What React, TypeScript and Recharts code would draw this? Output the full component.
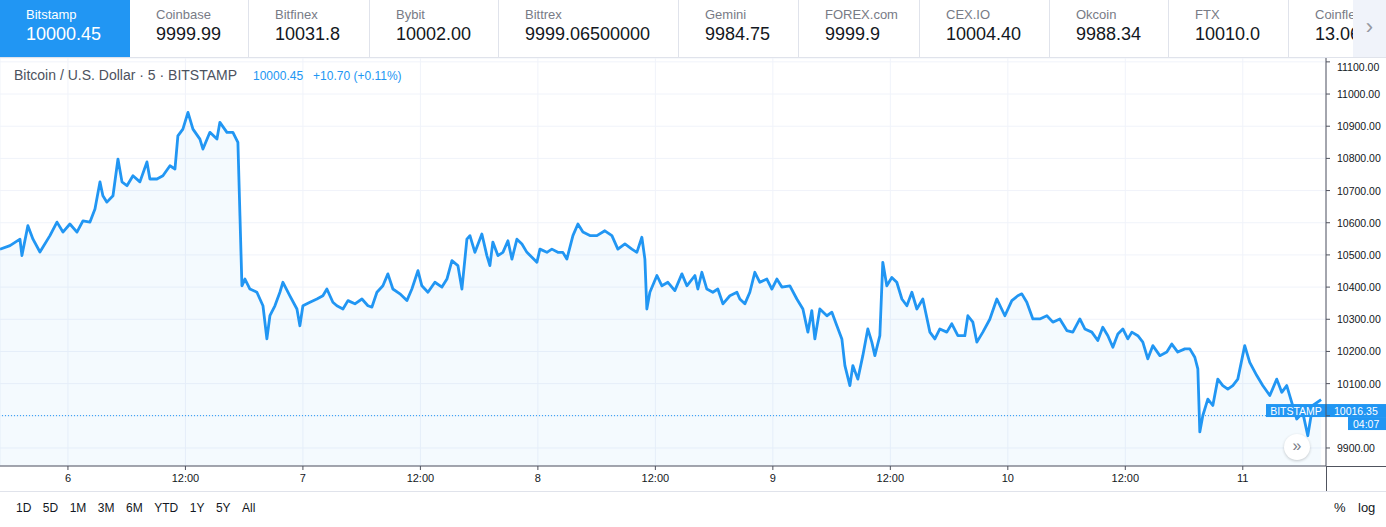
import React from "react";
import { ComposedChart, Area, XAxis, YAxis, CartesianGrid, ReferenceLine } from "recharts";

const BLUE = "#2196f3";
const TEXT = "#131722";
const TEXT_MUTED = "#787b86";
const GRID = "#f0f3fa";
const AXIS = "#50535e";
const BORDER = "#e0e3eb";
const FONT = "'Liberation Sans', Arial, sans-serif";

// ticker strip
const EXCHANGES = ["Bitstamp", "Coinbase", "Bitfinex", "Bybit", "Bittrex", "Gemini", "FOREX.com", "CEX.IO", "Okcoin", "FTX", "Coinflex"];
const QUOTES = ["10000.45", "9999.99", "10031.8", "10002.00", "9999.06500000", "9984.75", "9999.9", "10004.40", "9988.34", "10010.0", "13.065"];
const CELL_WIDTHS = [130, 119, 121, 129, 180, 120, 121, 130, 119, 120, 64];

// hours since the 6th, 00:00 (5 min bars, sampled)
const HOURS = [
  -6.94, -5.92, -4.9, -4.7, -4.09, -3.57, -2.86, -1.84, -1.12, -0.51, 0.2, 0.92, 1.53, 2.25, 2.76, 3.27, 3.57, 3.98,
  4.6, 5.11, 5.52, 6.03, 6.64, 7.35, 8.07, 8.37, 9.09, 9.7, 10.42, 10.93, 11.23, 11.74, 12.26, 12.77, 13.48, 13.79,
  14.5, 15.22, 15.52, 16.24, 16.85, 17.36, 17.57, 17.77, 18.08, 18.59, 19.3, 19.92, 20.32, 20.63, 21.14, 21.65, 21.96,
  22.67, 23.39, 23.69, 24.0, 24.72, 25.43, 26.04, 26.45, 27.06, 27.47, 28.09, 28.6, 29.31, 30.03, 30.64, 31.05, 31.56,
  32.17, 32.68, 33.19, 33.91, 34.62, 35.13, 35.75, 36.15, 36.77, 37.48, 38.2, 38.71, 39.22, 39.83, 40.24, 40.75, 41.06,
  41.57, 42.28, 42.79, 43.1, 43.4, 43.92, 44.43, 44.94, 45.35, 45.86, 46.37, 46.88, 47.39, 47.9, 48.21, 48.92, 49.43,
  50.04, 50.55, 50.96, 51.58, 52.09, 52.6, 53.31, 54.03, 54.84, 55.56, 56.17, 56.89, 57.6, 58.11, 58.62, 58.93, 59.13,
  59.44, 60.16, 60.67, 61.28, 61.99, 62.71, 63.22, 64.04, 64.34, 64.75, 65.26, 65.87, 66.38, 66.9, 67.61, 68.33, 68.63,
  69.14, 69.65, 70.16, 70.67, 71.39, 71.9, 72.41, 72.92, 73.74, 74.45, 75.07, 75.58, 75.98, 76.29, 76.8, 77.52, 78.03,
  78.54, 79.05, 79.36, 79.87, 80.17, 80.68, 81.19, 81.7, 82.11, 82.42, 82.93, 83.23, 83.64, 84.15, 84.66, 85.18, 85.69,
  86.2, 86.71, 87.32, 88.04, 88.55, 89.06, 89.77, 90.28, 90.9, 91.61, 91.92, 92.43, 92.84, 93.45, 94.16, 94.88, 95.7,
  96.41, 97.02, 97.43, 97.94, 98.56, 99.27, 99.99, 100.6, 101.31, 102.03, 102.64, 103.36, 103.87, 104.58, 105.19,
  105.7, 106.22, 106.73, 107.24, 107.75, 108.26, 108.67, 109.28, 109.79, 110.3, 110.81, 111.53, 112.24, 112.75,
  113.36, 114.08, 114.59, 115.1, 115.41, 115.61, 115.92, 116.43, 116.94, 117.45, 117.96, 118.47, 118.98, 119.49,
  120.2, 120.71, 121.43, 122.04, 122.76, 123.47, 123.98, 124.49, 125.0, 125.51, 126.13, 126.64, 127.15, 128.0,
];
const PRICES = [
  10518, 10529, 10549, 10498, 10591, 10549, 10509, 10560, 10602, 10571, 10596, 10571, 10606, 10602, 10643, 10727, 10684, 10664,
  10684, 10798, 10727, 10715, 10746, 10727, 10789, 10736, 10736, 10746, 10777, 10767, 10870, 10891, 10943, 10891, 10860, 10829,
  10881, 10860, 10912, 10881, 10881, 10850, 10621, 10404, 10425, 10394, 10384, 10342, 10239, 10311, 10342, 10384, 10415,
  10373, 10332, 10280, 10342, 10353, 10363, 10373, 10394, 10353, 10342, 10332, 10358, 10348, 10363, 10342, 10338, 10384,
  10404, 10441, 10394, 10379, 10358, 10394, 10451, 10404, 10384, 10415, 10400, 10425, 10482, 10467, 10394, 10549, 10560,
  10508, 10565, 10498, 10467, 10540, 10498, 10508, 10544, 10487, 10549, 10534, 10508, 10493, 10477, 10518, 10508, 10518,
  10508, 10508, 10487, 10560, 10596, 10571, 10560, 10560, 10575, 10560, 10518, 10534, 10518, 10508, 10555, 10487, 10332,
  10384, 10436, 10404, 10415, 10389, 10441, 10404, 10436, 10394, 10446, 10394, 10384, 10394, 10348, 10373, 10384, 10363,
  10348, 10384, 10446, 10415, 10425, 10394, 10425, 10400, 10404, 10363, 10332, 10260, 10327, 10239, 10332, 10311, 10322,
  10280, 10239, 10156, 10094, 10156, 10114, 10187, 10270, 10229, 10187, 10249, 10477, 10404, 10430, 10415, 10363, 10342,
  10384, 10332, 10363, 10260, 10239, 10270, 10260, 10286, 10249, 10249, 10311, 10291, 10229, 10260, 10300, 10363, 10311,
  10358, 10373, 10379, 10353, 10301, 10301, 10311, 10291, 10301, 10265, 10260, 10301, 10270, 10260, 10234,
  10275, 10249, 10213, 10254, 10270, 10239, 10260, 10249, 10229, 10177, 10218, 10187, 10198, 10223,
  10198, 10208, 10208, 10182, 10146, 9950, 10001, 10052, 10032, 10114, 10094, 10083, 10094, 10114,
  10218, 10166, 10125, 10094, 10063, 10114, 10073, 10094, 10042, 9990, 10010, 9938, 10032, 10050,
];

const X_TICKS = [0, 12, 24, 36, 48, 60, 72, 84, 96, 108, 120];
const X_TICK_LABELS = ["6", "12:00", "7", "12:00", "8", "12:00", "9", "12:00", "10", "12:00", "11"];
const Y_TICKS = [9900, 10000, 10100, 10200, 10300, 10400, 10500, 10600, 10700, 10800, 10900, 11000, 11100];
const RANGES = ["1D", "5D", "1M", "3M", "6M", "YTD", "1Y", "5Y", "All"];

const LAST_CLOSE = 10000.45;
const TAG_PRICE = 10016.35;
const TAG_TIMER = "04:07";

const data = HOURS.map((t, i) => ({ t, p: PRICES[i] }));

// the 10000.00 label sits under the live price tag in the reference
function PriceTick(props: any) {
  const { x, y, payload } = props;
  if (payload.value === 10000) return null;
  return (
    <text x={x + 5} y={y + 4} fontSize={10.5} fill={TEXT} fontFamily={FONT}>
      {Number(payload.value).toFixed(2)}
    </text>
  );
}

function PriceTag(props: any) {
  const vb = props.viewBox;
  if (!vb) return null;
  const right = vb.x + vb.width;
  const y = vb.y;
  return (
    <g style={{ fontFamily: FONT }}>
      <rect x={right - 60} y={y - 6.5} width={60} height={13} fill={BLUE} />
      <text x={right - 30} y={y + 4} textAnchor="middle" fill="#fff" fontSize={10.5}>BITSTAMP</text>
      <rect x={right} y={y - 6.5} width={60} height={13} fill={BLUE} />
      <text x={right + 8} y={y + 4} fill="#fff" fontSize={10.5}>{TAG_PRICE.toFixed(2)}</text>
      <rect x={right + 22} y={y + 6.5} width={38} height={13} fill={BLUE} />
      <text x={right + 27} y={y + 17} fill="#fff" fontSize={10.5}>{TAG_TIMER}</text>
    </g>
  );
}

function TickerBar() {
  return (
    <div style={{ position: "absolute", left: 0, top: 0, width: 1386, height: 57, borderBottom: `1px solid ${BORDER}`, background: "#fff", display: "flex", overflow: "hidden", zIndex: 2 }}>
      {EXCHANGES.map((name, i) => (
        <div
          key={name}
          style={{
            width: CELL_WIDTHS[i],
            flex: "none",
            boxSizing: "border-box",
            padding: "7px 0 0 26px",
            background: i === 0 ? BLUE : "#fff",
            borderRight: i === 0 || i === EXCHANGES.length - 1 ? "none" : `1px solid ${BORDER}`,
            whiteSpace: "nowrap",
            overflow: "hidden",
          }}
        >
          <div style={{ fontSize: 13, lineHeight: "16px", color: i === 0 ? "#fff" : TEXT_MUTED }}>{name}</div>
          <div style={{ fontSize: 18, lineHeight: "22px", color: i === 0 ? "#fff" : TEXT }}>{QUOTES[i]}</div>
        </div>
      ))}
      <div style={{ flex: "none", width: 33, height: 57, background: "#f0f3fa", color: "#9598a1", fontSize: 22, textAlign: "center", lineHeight: "54px" }}>
        ›
      </div>
    </div>
  );
}

export default function App() {
  return (
    <div style={{ position: "absolute", left: 0, top: 0, width: 1386, height: 527, background: "#fff", fontFamily: FONT, overflow: "hidden" }}>
      <TickerBar />
      <div style={{ position: "absolute", left: 0, top: 58 }}>
        <ComposedChart width={1386} height={433} data={data} margin={{ top: 0, right: 0, bottom: 0, left: 0 }}>
          <CartesianGrid stroke={GRID} strokeWidth={1} />
          <XAxis
            dataKey="t"
            type="number"
            domain={[-6.94, 128.5]}
            ticks={X_TICKS}
            allowDataOverflow
            height={25}
            tickFormatter={(v: number) => X_TICK_LABELS[X_TICKS.indexOf(v)] ?? ""}
            tick={{ fontSize: 11, fill: TEXT, fontFamily: FONT }}
            tickSize={4}
            tickMargin={4}
            tickLine={{ stroke: AXIS }}
            axisLine={{ stroke: AXIS }}
          />
          <YAxis
            orientation="right"
            type="number"
            domain={[9844, 11112]}
            ticks={Y_TICKS}
            allowDataOverflow
            width={60}
            tick={<PriceTick />}
            tickSize={4}
            tickLine={{ stroke: AXIS }}
            axisLine={{ stroke: AXIS }}
          />
          <Area
            type="linear"
            dataKey="p"
            stroke={BLUE}
            strokeWidth={2.8}
            strokeLinejoin="round"
            fill={BLUE}
            fillOpacity={0.05}
            dot={false}
            activeDot={false}
            isAnimationActive={false}
          />
          <ReferenceLine y={LAST_CLOSE} stroke={BLUE} strokeDasharray="1 2" strokeWidth={1} />
          <ReferenceLine y={TAG_PRICE} stroke="none" label={(p: any) => <PriceTag {...p} />} />
        </ComposedChart>
      </div>

      {/* legend line */}
      <div style={{ position: "absolute", left: 14, top: 67, fontSize: 14, color: "#4c525e", whiteSpace: "nowrap" }}>
        Bitcoin / U.S. Dollar · 5 · BITSTAMP
        <span style={{ fontSize: 12, color: BLUE, marginLeft: 16 }}>{QUOTES[0]}</span>
        <span style={{ fontSize: 12, color: BLUE, marginLeft: 10 }}>+10.70 (+0.11%)</span>
      </div>

      {/* axis extensions + footer separator */}
      <div style={{ position: "absolute", left: 1326, top: 466, width: 60, height: 1, background: AXIS }} />
      <div style={{ position: "absolute", left: 1326, top: 466, width: 1, height: 25, background: AXIS }} />
      <div style={{ position: "absolute", left: 0, top: 491, width: 1386, height: 1, background: BORDER }} />

      <div style={{ position: "absolute", left: 1284, top: 434, width: 26, height: 26, borderRadius: 13, background: "#fff", boxShadow: "0 1px 3px rgba(0,0,0,0.2)", color: TEXT_MUTED, fontSize: 16, textAlign: "center", lineHeight: "24px" }}>
        »
      </div>

      <div style={{ position: "absolute", left: 16, top: 501, display: "flex", gap: 11.5, fontSize: 12, color: TEXT }}>
        {RANGES.map((r) => (
          <span key={r}>{r}</span>
        ))}
      </div>
      <div style={{ position: "absolute", left: 1334, top: 500, fontSize: 13, color: TEXT }}>%</div>
      <div style={{ position: "absolute", left: 1358, top: 500, fontSize: 13, color: TEXT }}>log</div>
    </div>
  );
}
